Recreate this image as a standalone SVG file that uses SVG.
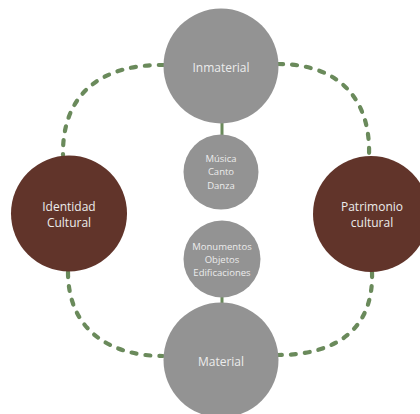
<svg xmlns="http://www.w3.org/2000/svg" width="420" height="414" viewBox="0 0 420 414">
<style>
.gray{fill:#939393}
.brown{fill:#61342a}
.lbl{font-family:"Open Sans","DejaVu Sans",sans-serif;fill:#ececec;text-anchor:middle;dominant-baseline:central}
.big{font-size:12px}
.small{font-size:9.5px}
.dash{fill:none;stroke:#6a8a5b;stroke-width:4.2;stroke-dasharray:5 9;stroke-linecap:round}
.solid{fill:none;stroke:#6a8a5b;stroke-width:3}
</style>
<rect width="420" height="414" fill="#ffffff"/>
<g id="connectors">
<path class="dash" d="M164,65 C100,64 62,95 63,155"/>
<path class="dash" d="M278,64 C340,64 371,100 369,156"/>
<path class="dash" d="M68,272 C68,330 110,356 163,356"/>
<path class="dash" d="M372,272 C374,330 335,355 278,355"/>
<line class="solid" x1="222" y1="122" x2="222" y2="136"/>
<line class="solid" x1="222" y1="296" x2="222" y2="304"/>
</g>
<g id="inmaterial">
<circle class="gray" cx="221" cy="66" r="57.5"/>
<text class="lbl big" x="221" y="67">Inmaterial</text>
</g>
<g id="musica">
<circle class="gray" cx="221" cy="172" r="37.5"/>
<text class="lbl small" x="221" y="158">Música</text>
<text class="lbl small" x="221" y="171.5">Canto</text>
<text class="lbl small" x="221" y="185">Danza</text>
</g>
<g id="monumentos">
<circle class="gray" cx="222" cy="259" r="38.5"/>
<text class="lbl small" x="222" y="246">Monumentos</text>
<text class="lbl small" x="222" y="259">Objetos</text>
<text class="lbl small" x="222" y="272">Edificaciones</text>
</g>
<g id="material">
<circle class="gray" cx="221" cy="360" r="57.5"/>
<text class="lbl big" x="221" y="361">Material</text>
</g>
<g id="identidad">
<circle class="brown" cx="69" cy="213.5" r="58"/>
<text class="lbl big" x="69" y="206">Identidad</text>
<text class="lbl big" x="69" y="222">Cultural</text>
</g>
<g id="patrimonio">
<circle class="brown" cx="371" cy="214" r="58"/>
<text class="lbl big" x="372" y="206">Patrimonio</text>
<text class="lbl big" x="372" y="222">cultural</text>
</g>
</svg>
